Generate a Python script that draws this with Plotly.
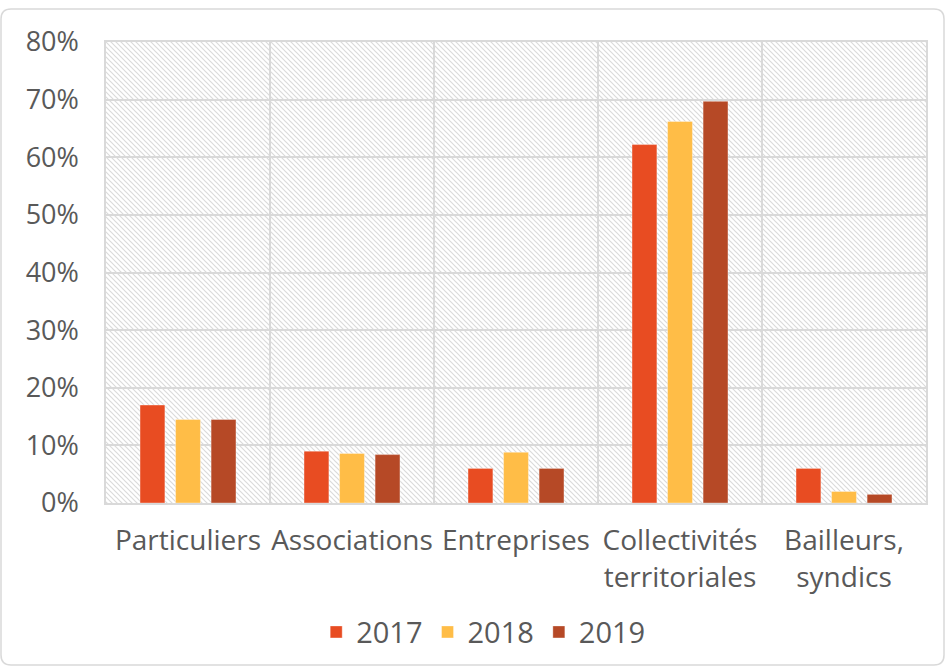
import base64
import plotly.graph_objects as go

categories = ["Particuliers", "Associations", "Entreprises",
              "Collectivités<br>territoriales", "Bailleurs,<br>syndics"]
years = ["2017", "2018", "2019"]
values_2017 = [17.0, 9.0, 6.0, 62.2, 6.0]
values_2018 = [14.5, 8.6, 8.8, 66.2, 2.0]
values_2019 = [14.5, 8.4, 6.0, 69.7, 1.5]
colors = ["#E84C22", "#FFBD47", "#B64926"]
y_ticks = [0, 10, 20, 30, 40, 50, 60, 70, 80]
y_ticklabels = ["0%", "10%", "20%", "30%", "40%", "50%", "60%", "70%", "80%"]

W, H = 946, 668
ML, MR, MT, MB = 106, 20, 42, 165
PW, PH = W - ML - MR, H - MT - MB

fig = go.Figure()
for name, vals, col in zip(years, [values_2017, values_2018, values_2019], colors):
    fig.add_trace(go.Bar(
        name=name, x=categories, y=vals,
        marker=dict(color=col, line=dict(color="rgba(255,255,255,0.35)", width=1)),
    ))

# hatched plot-area background (decoration)
svg = (f'<svg xmlns="http://www.w3.org/2000/svg" width="{PW}" height="{PH}" '
       f'viewBox="0 0 {PW} {PH}" preserveAspectRatio="none">'
       '<defs><pattern id="h" patternUnits="userSpaceOnUse" width="5" height="5">'
       '<path d="M0,0 L5,5 M-2.5,2.5 L2.5,7.5 M2.5,-2.5 L7.5,2.5" stroke="#dadada" stroke-width="1.2"/>'
       '</pattern></defs>'
       f'<rect width="{PW}" height="{PH}" fill="white"/>'
       f'<rect width="{PW}" height="{PH}" fill="url(#h)"/></svg>')
src = "data:image/svg+xml;base64," + base64.b64encode(svg.encode()).decode()
fig.add_layout_image(dict(source=src, xref="paper", yref="paper", x=0, y=1,
                          sizex=1, sizey=1, sizing="stretch", layer="below",
                          xanchor="left", yanchor="top"))

# rounded outer border (decoration)
def px(x):
    return (x - ML) / PW
def py(y):
    return (MT + PH - y) / PH
x0, x1, y0, y1, r = 1, 944, 9, 665, 10
path = (f"M {px(x0+r)},{py(y0)} L {px(x1-r)},{py(y0)} Q {px(x1)},{py(y0)} {px(x1)},{py(y0+r)} "
        f"L {px(x1)},{py(y1-r)} Q {px(x1)},{py(y1)} {px(x1-r)},{py(y1)} "
        f"L {px(x0+r)},{py(y1)} Q {px(x0)},{py(y1)} {px(x0)},{py(y1-r)} "
        f"L {px(x0)},{py(y0+r)} Q {px(x0)},{py(y0)} {px(x0+r)},{py(y0)} Z")
fig.add_shape(type="path", path=path, xref="paper", yref="paper",
              line=dict(color="#d9d9d9", width=1.5), layer="below")

family = "Open Sans, Noto Sans, sans-serif"
xfont = dict(family=family, size=28, color="#595959")
yfont = dict(family=family, size=27, color="#595959")
fig.update_layout(
    width=W, height=H,
    margin=dict(l=ML, r=MR, t=MT, b=MB, autoexpand=False),
    paper_bgcolor="white", plot_bgcolor="rgba(0,0,0,0)",
    barmode="group", bargap=0.35, bargroupgap=0.3,
    font=xfont,
    showlegend=True,
    legend=dict(orientation="h", x=0.46, xanchor="center", y=-0.28, yanchor="middle",
                font=dict(family=family, size=29, color="#595959"), traceorder="normal",
                bgcolor="rgba(0,0,0,0)"),
)
fig.update_xaxes(
    showgrid=True, gridcolor="#d9d9d9", gridwidth=1.5, tickson="boundaries",
    showline=True, linecolor="#d9d9d9", linewidth=1.5, mirror=True,
    ticks="", ticklabelstandoff=12,
    tickangle=0, tickfont=xfont, automargin=False,
)
fig.update_yaxes(
    range=[0, 80], tickvals=y_ticks, ticktext=y_ticklabels,
    showgrid=True, gridcolor="#d9d9d9", gridwidth=1.5,
    showline=True, linecolor="#d9d9d9", linewidth=1.5, mirror=True,
    zeroline=False, ticklabelstandoff=20, tickfont=yfont, automargin=False,
)
fig.write_html("out.html", config={"displayModeBar": False},
               post_script="document.body.style.margin='0';document.body.style.padding='0';")
